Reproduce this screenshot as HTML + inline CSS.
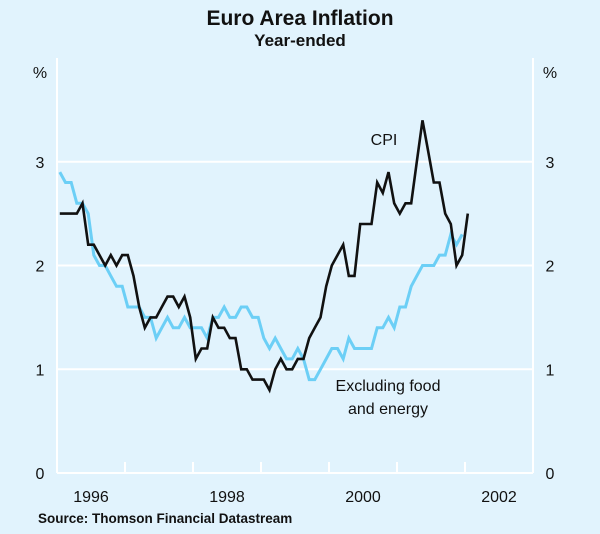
<!DOCTYPE html>
<html><head><meta charset="utf-8"><style>
body{margin:0;background:#e1f3fd;}
svg{display:block;font-family:"Liberation Sans",Arial,sans-serif;}
</style></head><body>
<svg width="600" height="534" viewBox="0 0 600 534">
<rect width="600" height="534" fill="#e1f3fd"/>
<text x="300" y="25" text-anchor="middle" font-size="21" font-weight="bold" fill="#111">Euro Area Inflation</text>
<text x="300" y="46" text-anchor="middle" font-size="17" font-weight="bold" fill="#111">Year-ended</text>
<text x="40" y="78" text-anchor="middle" font-size="16" fill="#111">%</text>
<text x="550" y="78" text-anchor="middle" font-size="16" fill="#111">%</text>
<g id="grid"></g>
<g id="series"></g>
<text x="384" y="145" text-anchor="middle" font-size="16" fill="#111">CPI</text>
<text x="388" y="391" text-anchor="middle" font-size="16" fill="#111">Excluding food</text>
<text x="388" y="414" text-anchor="middle" font-size="16" fill="#111">and energy</text>
<text x="38" y="523" font-size="13.5" font-weight="bold" fill="#111">Source: Thomson Financial Datastream</text>
</svg>
<script>
const yTicks=[0,1,2,3];
const yearLabels=["1996","1998","2000","2002"];
const yearLabelValues=[1996,1998,2000,2002];
const cpi=[2.5,2.5,2.5,2.5,2.6,2.2,2.2,2.1,2.0,2.1,2.0,2.1,2.1,1.9,1.6,1.4,1.5,1.5,1.6,1.7,1.7,1.6,1.7,1.5,1.1,1.2,1.2,1.5,1.4,1.4,1.3,1.3,1.0,1.0,0.9,0.9,0.9,0.8,1.0,1.1,1.0,1.0,1.1,1.1,1.3,1.4,1.5,1.8,2.0,2.1,2.2,1.9,1.9,2.4,2.4,2.4,2.8,2.7,2.9,2.6,2.5,2.6,2.6,3.0,3.4,3.1,2.8,2.8,2.5,2.4,2.0,2.1,2.5];
const excl=[2.9,2.8,2.8,2.6,2.6,2.5,2.1,2.0,2.0,1.9,1.8,1.8,1.6,1.6,1.6,1.5,1.5,1.3,1.4,1.5,1.4,1.4,1.5,1.4,1.4,1.4,1.3,1.5,1.5,1.6,1.5,1.5,1.6,1.6,1.5,1.5,1.3,1.2,1.3,1.2,1.1,1.1,1.2,1.1,0.9,0.9,1.0,1.1,1.2,1.2,1.1,1.3,1.2,1.2,1.2,1.2,1.4,1.4,1.5,1.4,1.6,1.6,1.8,1.9,2.0,2.0,2.0,2.1,2.1,2.3,2.2,2.3];
const NS="http://www.w3.org/2000/svg";
const X0=57,X1=533,Y0=473,Ytop=58,startYear=1996,endYear=2003,yMax=4;
const xYear=v=>X0+(v-startYear)*(X1-X0)/(endYear-startYear);
const xMonth=i=>xYear(startYear+(i+0.5)/12);
const y=v=>Y0-v*(Y0-Ytop)/yMax;
const grid=document.getElementById('grid'),ser=document.getElementById('series');
function mk(t,a,p){const e=document.createElementNS(NS,t);for(const k in a)e.setAttribute(k,a[k]);p.appendChild(e);return e;}
for(const t of yTicks){
  if(t>0){const l=mk('line',{x1:X0,x2:X1,y1:y(t),y2:y(t),stroke:'#fff','stroke-width':2},grid);
  
  }
  const a=mk('text',{x:40,y:y(t)+6,'text-anchor':'middle','font-size':16,fill:'#111'},grid);a.textContent=t;
  
  
  const b=mk('text',{x:550,y:y(t)+6,'text-anchor':'middle','font-size':16,fill:'#111'},grid);b.textContent=t;
  
  
}
const ax=mk('line',{x1:X0,x2:X1,y1:Y0,y2:Y0,stroke:'#fff','stroke-width':2},grid);


for(const s of [X0,X1]){const l=mk('line',{x1:s,x2:s,y1:Ytop,y2:Y0,stroke:'#fff','stroke-width':2},grid);

}
for(let yr=startYear+1;yr<endYear;yr++){const l=mk('line',{x1:xYear(yr),x2:xYear(yr),y1:Y0-11,y2:Y0,stroke:'#fff','stroke-width':2},grid);

}
yearLabels.forEach((lab,i)=>{const t=mk('text',{x:xYear(yearLabelValues[i]+0.5),y:Y0+29,'text-anchor':'middle','font-size':16,fill:'#111'},grid);t.textContent=lab;

});
function line(d,col,w,name){const p=mk('polyline',{points:d.map((v,i)=>xMonth(i).toFixed(1)+','+y(v).toFixed(1)).join(' '),fill:'none',stroke:col,'stroke-width':w,'stroke-linejoin':'miter'},ser);

}
line(excl,'#6ccff6',3,'excl-food-energy-line');
line(cpi,'#111',2.6,'cpi-line');
</script>
</body></html>
